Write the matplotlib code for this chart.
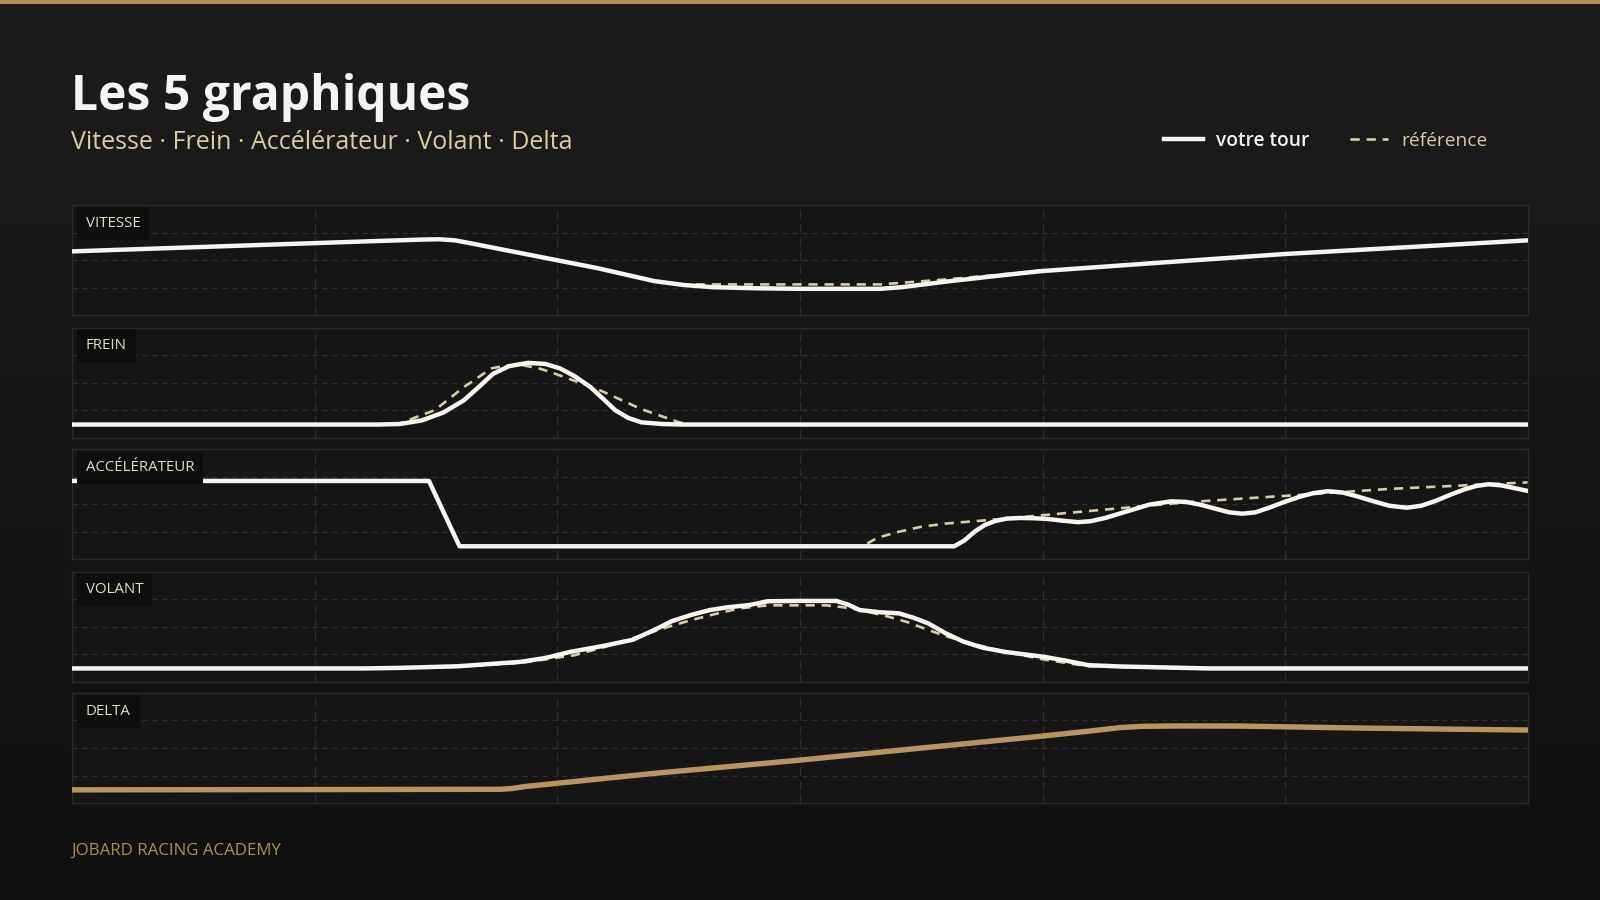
import numpy as np
import matplotlib.pyplot as plt
from matplotlib.patches import Rectangle
from matplotlib.colors import LinearSegmentedColormap

# distance le long du tour (%) et valeurs (% de l'échelle de chaque panneau)
vitesse_x = [0, 10, 20, 24, 25.2, 26.3, 27.5, 30, 36, 40, 42, 44, 47, 50, 55.5, 57, 58.5, 60, 63, 66.5, 75, 83.3, 92, 100]
vitesse_tour = [58, 62.5, 67, 68.7, 69, 68, 65, 58.5, 43, 31, 27.5, 25.5, 24.5, 24, 24, 25.5, 28, 30.5, 35, 40, 48, 55.6, 62, 68]
vitesse_ref_x = [0, 10, 20, 24, 25.2, 26.3, 27.5, 30, 36, 40, 42, 44, 50, 55.5, 58, 60, 63, 66.5, 75, 83.3, 92, 100]
vitesse_ref = [58, 62.5, 67, 68.7, 69, 68, 65, 58.5, 43, 31, 28, 28, 28, 28, 30.5, 32.5, 36, 40.5, 48, 55.6, 62, 68]

frein_x = [0, 21, 22.5, 24, 25.5, 26.9, 28, 28.9, 30, 31.3, 32.5, 33.5, 34.5, 35.6, 36.5, 37.3, 38.2, 39.1, 40.5, 42, 100]
frein_tour = [12, 12, 12.5, 15.7, 23, 34, 47, 58, 65, 68, 67, 63, 56, 46, 35, 25, 18, 14, 12.5, 12, 12]
frein_ref_x = [0, 21, 22.5, 23.4, 24.9, 26.9, 28.8, 29.8, 30.9, 32.2, 33.2, 36.1, 39.1, 41.7, 42.5, 100]
frein_ref = [12, 12, 13, 17.6, 25, 46, 63, 65.5, 66, 62.5, 58, 44, 26, 14, 12, 12]

accel_x = [0, 24.5, 26.6, 60.6, 61.3, 62, 62.7, 63.4, 64.2, 65.1, 66, 67, 68, 69.1, 70, 71, 72, 73, 74,
           75.5, 76.5, 77.5, 78.5, 79.5, 80.4, 81.3, 82.3, 83.3, 84.3, 85.3, 86.3, 87.3, 88.3, 89.3,
           90.5, 91.7, 92.7, 93.7, 94.7, 95.7, 96.5, 97.3, 98.2, 99.1, 100]
accel_tour = [71, 71, 11.7, 11.7, 17, 25, 31, 34.6, 36.8, 37.4, 37.2, 36.5, 35, 33.6, 34.5, 37.5, 41.5, 45.5, 49.5,
              52.5, 52, 49.5, 46, 42.5, 41.3, 42.5, 47, 52, 56.5, 60, 61.7, 60.5, 57, 53,
              48.5, 46.7, 48.5, 53, 58.5, 63.5, 66.5, 68, 67, 64.5, 62]
accel_ref_x = [0, 24.5, 26.6, 54.3, 55.3, 56.6, 58.3, 60, 63.4, 70.1, 76.9, 83.6, 90.4, 100]
accel_ref = [71, 71, 11.7, 11.7, 19.3, 24.3, 29.3, 32.3, 36, 44, 52, 57.7, 63.7, 69.7]

volant_x = [0, 20, 22.5, 26.5, 30.8, 32.5, 34.2, 36.5, 38.5, 40, 41.2, 42.5, 43.8, 45, 46.5, 47.8, 50, 52.5,
            53.3, 54.1, 55.5, 56.8, 57.8, 58.8, 60, 61.2, 62.5, 64.1, 66.8, 68.3, 69.8, 72, 74.7, 78.1, 100]
volant_tour = [12, 12, 12.5, 14, 18, 21.5, 27, 32.5, 38, 47, 55, 60.5, 65, 67.5, 69.5, 73, 73.3, 73.3,
               70, 65, 63, 62, 58, 53, 44, 36.5, 31, 27, 22.5, 19, 15, 13.8, 13, 12, 12]
volant_ref_x = [0, 20, 26.5, 30.8, 34.5, 37, 39.1, 41, 42.5, 44.2, 45.8, 47.8, 51.8, 53, 54.1, 55.8,
                57.4, 58.8, 60.1, 62, 64.1, 66.8, 69.8, 74.7, 78.1, 100]
volant_ref = [12, 12, 13.5, 17, 24, 33, 42, 50, 55.8, 61.5, 66.4, 69.3, 69.3, 67.5, 65, 60,
              54, 47, 41, 34, 27, 20, 14, 12.5, 12, 12]

delta_x = [0, 14, 29.4, 30.2, 31.1, 40, 50, 58, 66.5, 70, 72, 73.6, 76, 80.3, 89, 100]
delta = [12, 12.2, 12.5, 13.2, 15, 27, 39, 49.5, 60.6, 65.5, 68.5, 69.7, 70, 69.9, 68, 66.3]

panel_labels = ["VITESSE", "FREIN", "ACCÉLÉRATEUR", "VOLANT", "DELTA"]

GOLD = '#b8955e'
BEIGE = '#dccba4'
WHITE = '#f7f5f0'

plt.rcParams['font.family'] = ['Open Sans', 'DejaVu Sans']

fig = plt.figure(figsize=(16, 9), dpi=100)
fig.patch.set_facecolor('#161616')

# fond en dégradé
bg = fig.add_axes([0, 0, 1, 1], zorder=-10)
grad = np.linspace(0, 1, 256).reshape(-1, 1)
cmap = LinearSegmentedColormap.from_list('bg', ['#1c1c1c', '#101010'])
bg.imshow(grad, aspect='auto', cmap=cmap, extent=[0, 1, 0, 1])
bg.axis('off')

# barre dorée en haut
fig.add_artist(Rectangle((0, 1 - 4 / 882), 1, 4 / 882, transform=fig.transFigure,
                         color='#b08d57', lw=0))

fig.text(0.0446, 0.8776, "Les 5 graphiques", color='#f4f4f2', fontsize=34.6,
         fontweight='bold', va='baseline', ha='left')
fig.text(0.0446, 0.8345, "Vitesse · Frein · Accélérateur · Volant · Delta", color=BEIGE,
         fontsize=18, fontweight='normal', va='baseline', ha='left')
fig.text(0.0446, 0.0499, "JOBARD RACING ACADEMY", color='#b08d57', fontsize=12.2,
         va='baseline', ha='left')

series = [
    (vitesse_x, vitesse_tour, vitesse_ref_x, vitesse_ref),
    (frein_x, frein_tour, frein_ref_x, frein_ref),
    (accel_x, accel_tour, accel_ref_x, accel_ref),
    (volant_x, volant_tour, volant_ref_x, volant_ref),
    (delta_x, delta, None, None),
]

bottoms = [0.6497, 0.5136, 0.3787, 0.2426, 0.1077]
handles = []
for i, (label, (x, y, rx, ry)) in enumerate(zip(panel_labels, series)):
    ax = fig.add_axes([0.0453, bottoms[i], 0.9094, 0.1224])
    ax.set_facecolor('#151515')
    ax.set_xlim(0, 100)
    ax.set_ylim(0, 100)
    ax.set_xticks([100 / 6 * k for k in range(1, 6)])
    ax.set_yticks([25, 50, 75])
    ax.tick_params(length=0, labelbottom=False, labelleft=False)
    ax.xaxis.grid(True, color='#2e2e2e', lw=0.9, ls=(0, (7, 4)))
    ax.yaxis.grid(True, color='#313131', lw=0.9, ls=(0, (4, 4)))
    ax.set_axisbelow(True)
    for sp in ax.spines.values():
        sp.set_color('#2a2a2a')
        sp.set_linewidth(1)

    if rx is not None:
        lr, = ax.plot(rx, ry, color=BEIGE, lw=1.9, ls=(0, (3.5, 2.6)), zorder=3,
                      solid_capstyle='butt', label='référence')
        lt, = ax.plot(x, y, color=WHITE, lw=3.2, zorder=4, solid_joinstyle='round',
                      label='votre tour')
        if i == 0:
            handles = [lt, lr]
    else:
        ax.plot(x, y, color=GOLD, lw=3.9, zorder=4, solid_joinstyle='round')

    ax.text(0.0091, 0.835, label, transform=ax.transAxes, color='#e6dcc4', fontsize=10.8,
            va='center', ha='left', zorder=10,
            bbox=dict(boxstyle='square,pad=0.6', fc='#0e0e0e', ec='none'))

leg = fig.legend(handles=handles, loc='center right', bbox_to_anchor=(0.9405, 0.8435),
                 ncol=2, frameon=False, fontsize=13.8, handlelength=2.0,
                 handletextpad=0.7, columnspacing=2.1)
leg.get_texts()[0].set_color('#f4f4f2')
leg.get_texts()[0].set_fontweight('semibold')
leg.get_texts()[1].set_color(BEIGE)

fig.savefig('out.png', dpi=100, facecolor=fig.get_facecolor())
